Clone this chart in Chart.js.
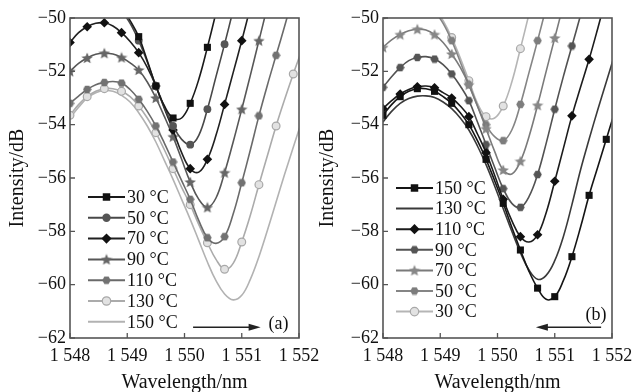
<!DOCTYPE html>
<html>
<head>
<meta charset="utf-8">
<script src="https://cdn.jsdelivr.net/npm/chart.js@4.4.0/dist/chart.umd.min.js"></script>
<style>
  html, body { margin: 0; padding: 0; background: #fff; }
  #wrap { position: relative; width: 633px; height: 392px; overflow: hidden; }
  .panel { position: absolute; top: 0; height: 392px; }
  #pa { left: 0; width: 322px; }
  #pb { left: 312px; width: 321px; }
</style>
</head>
<body>
<div id="wrap">
  <div class="panel" id="pa"><canvas id="chartA"></canvas></div>
  <div class="panel" id="pb"><canvas id="chartB"></canvas></div>
</div>
<script>
// wavelength grid (nm), markers sit on every other point (0.3 nm)
const wavelength = [1548.00, 1548.15, 1548.30, 1548.45, 1548.60, 1548.75, 1548.90, 1549.05, 1549.20, 1549.35,
  1549.50, 1549.65, 1549.80, 1549.95, 1550.10, 1550.25, 1550.40, 1550.55, 1550.70, 1550.85,
  1551.00, 1551.15, 1551.30, 1551.45, 1551.60, 1551.75, 1551.90, 1552.05];

// (a) heating, intensity in dB
const a30 = [-49.6, -49.3, -49.1, -49.0, -49.0, -49.2, -49.6, -50.1, -50.7, -51.6, -52.55, -53.3, -53.75, -53.75, -53.2, -52.3, -51.1, -49.8, -48.4];
const a50 = [-49.9, -49.6, -49.4, -49.3, -49.3, -49.45, -49.75, -50.2, -50.85, -51.65, -52.55, -53.35, -54.05, -54.55, -54.75, -54.4, -53.42, -52.2, -50.98, -49.7, -48.4];
const a70 = [-50.92, -50.55, -50.33, -50.2, -50.18, -50.3, -50.55, -50.88, -51.3, -51.85, -52.55, -53.4, -54.2, -55.05, -55.65, -55.78, -55.3, -54.4, -53.24, -52.05, -50.85, -49.6, -48.3];
const a90 = [-52.0, -51.7, -51.5, -51.36, -51.32, -51.35, -51.48, -51.68, -51.95, -52.4, -53.0, -53.7, -54.45, -55.3, -56.15, -56.8, -57.1, -56.75, -55.8, -54.65, -53.42, -52.15, -50.85, -49.55, -48.25];
const a110 = [-53.2, -52.93, -52.68, -52.5, -52.42, -52.38, -52.44, -52.68, -53.05, -53.5, -54.05, -54.7, -55.4, -56.1, -56.8, -57.6, -58.24, -58.45, -58.2, -57.35, -56.18, -54.95, -53.67, -52.5, -51.4, -50.3, -49.15];
const a130 = [-53.65, -53.25, -52.95, -52.75, -52.65, -52.65, -52.75, -52.95, -53.3, -53.75, -54.3, -54.95, -55.65, -56.35, -57.0, -57.75, -58.43, -59.05, -59.42, -59.2, -58.4, -57.4, -56.25, -55.15, -54.05, -53.05, -52.1, -51.2];
const a150 = [-53.75, -53.35, -53.0, -52.8, -52.72, -52.75, -52.9, -53.15, -53.55, -54.05, -54.65, -55.35, -56.05, -56.8, -57.55, -58.35, -59.15, -59.85, -60.35, -60.57, -60.4, -59.8, -58.95, -57.95, -56.9, -55.85, -54.85, -53.85];

// (b) cooling
const b150 = [-53.65, -53.25, -52.95, -52.75, -52.65, -52.65, -52.75, -52.95, -53.2, -53.55, -54.0, -54.6, -55.3, -56.1, -56.95, -57.85, -58.7, -59.5, -60.13, -60.55, -60.45, -59.85, -58.95, -57.85, -56.65, -55.6, -54.55, -53.5];
const b130 = [-53.9, -53.5, -53.2, -53.02, -52.93, -52.92, -52.98, -53.15, -53.4, -53.75, -54.2, -54.8, -55.5, -56.3, -57.15, -58.0, -58.8, -59.45, -59.8, -59.65, -59.1, -58.2, -57.0, -55.7, -54.55, -53.45, -52.4, -51.35];
const b110 = [-53.4, -53.1, -52.85, -52.68, -52.58, -52.55, -52.62, -52.8, -53.0, -53.3, -53.7, -54.35, -55.05, -55.9, -56.8, -57.6, -58.2, -58.4, -58.13, -57.3, -56.12, -54.9, -53.67, -52.6, -51.55, -50.4, -49.2];
const b90 = [-52.6, -52.2, -51.86, -51.6, -51.48, -51.45, -51.54, -51.75, -52.1, -52.55, -53.1, -53.9, -54.75, -55.6, -56.4, -56.95, -57.1, -56.7, -55.87, -54.7, -53.42, -52.2, -51.05, -49.9, -48.7];
const b70 = [-51.1, -50.82, -50.62, -50.48, -50.42, -50.45, -50.62, -50.92, -51.35, -51.85, -52.5, -53.3, -54.15, -55.0, -55.7, -55.85, -55.37, -54.45, -53.27, -52.0, -50.75, -49.5, -48.25];
const b50 = [-49.9, -49.6, -49.4, -49.3, -49.3, -49.45, -49.75, -50.2, -50.85, -51.65, -52.5, -53.3, -54.0, -54.45, -54.6, -54.2, -53.24, -52.05, -50.85, -49.6, -48.3];
const b30 = [-49.6, -49.3, -49.1, -49.0, -49.0, -49.2, -49.6, -50.1, -50.73, -51.5, -52.35, -53.2, -53.7, -53.75, -53.3, -52.4, -51.15, -49.85, -48.5];

const xTicks = [1548, 1549, 1550, 1551, 1552];
const yTicks = [-62, -60, -58, -56, -54, -52, -50];

const SERIF = '"Liberation Serif", "Times New Roman", serif';

// small marker glyphs that Chart.js has no built-in style for
function starIcon(size, fill) {
  const c = document.createElement('canvas');
  c.width = c.height = size;
  const g = c.getContext('2d');
  const r = size / 2, ri = r * 0.45;
  g.beginPath();
  for (let k = 0; k < 10; k++) {
    const a = -Math.PI / 2 + k * Math.PI / 5;
    const rr = k % 2 ? ri : r;
    g.lineTo(r + rr * Math.cos(a), r + rr * Math.sin(a) + 0.5);
  }
  g.closePath();
  g.fillStyle = fill;
  g.fill();
  return c;
}
function hexIcon(size, fill) {
  const c = document.createElement('canvas');
  c.width = c.height = size;
  const g = c.getContext('2d');
  const r = size / 2;
  g.beginPath();
  for (let k = 0; k < 6; k++) {
    const a = k * Math.PI / 3;
    g.lineTo(r + (r - 0.3) * Math.cos(a), r + (r - 0.3) * Math.sin(a));
  }
  g.closePath();
  g.fillStyle = fill;
  g.fill();
  return c;
}

function series(label, values, color, marker) {
  return {
    label: label,
    data: values.map((v, i) => ({ x: wavelength[i], y: v })),
    borderColor: color,
    borderWidth: 1.6,
    tension: 0.4,
    fill: false,
    pointStyle: marker ? marker.style : 'circle',
    pointRadius: ctx => (marker && ctx.dataIndex % 2 === 0 ? marker.r : 0),
    pointBackgroundColor: marker ? marker.fill : color,
    pointBorderColor: marker ? marker.stroke : color,
    pointBorderWidth: marker ? marker.bw : 0,
    marker: marker
  };
}

const sq = (fill) => ({ style: 'rect', r: 5, fill: fill, stroke: fill, bw: 0 });
const dia = (fill) => ({ style: 'rectRot', r: 4.8, fill: fill, stroke: fill, bw: 0 });
const dot = (fill, stroke, bw) => ({ style: 'circle', r: 3.9, fill: fill, stroke: stroke, bw: bw });
const star = (fill) => ({ style: starIcon(12, fill), r: 4, fill: fill, stroke: fill, bw: 0 });
const hex = (fill) => ({ style: hexIcon(9, fill), r: 4, fill: fill, stroke: fill, bw: 0 });

// frame, inward tick marks, legend inside the plot and the direction arrow
const decorPlugin = {
  id: 'decor',
  afterDatasetsDraw(chart, args, opts) {
    const { ctx, chartArea: ca, scales } = chart;
    ctx.save();
    ctx.strokeStyle = '#555';
    ctx.lineWidth = 1.6;
    ctx.strokeRect(ca.left, ca.top, ca.right - ca.left, ca.bottom - ca.top);
    ctx.lineWidth = 1.3;
    ctx.beginPath();
    xTicks.forEach(v => {
      const px = scales.x.getPixelForValue(v);
      ctx.moveTo(px, ca.bottom);
      ctx.lineTo(px, ca.bottom - 5);
    });
    yTicks.forEach(v => {
      const py = scales.y.getPixelForValue(v);
      ctx.moveTo(ca.left, py);
      ctx.lineTo(ca.left + 5, py);
    });
    ctx.stroke();

    // legend
    ctx.font = '18px ' + SERIF;
    ctx.textBaseline = 'middle';
    ctx.textAlign = 'left';
    chart.data.datasets.forEach((ds, i) => {
      const y = ca.top + opts.legendTop + i * opts.legendStep;
      const x0 = ca.left + opts.legendLeft, x1 = x0 + 37;
      ctx.strokeStyle = ds.borderColor;
      ctx.lineWidth = 2;
      ctx.beginPath();
      ctx.moveTo(x0, y);
      ctx.lineTo(x1, y);
      ctx.stroke();
      const m = ds.marker;
      if (m) {
        ctx.fillStyle = m.fill;
        ctx.strokeStyle = m.stroke;
        ctx.lineWidth = m.bw;
        Chart.helpers.drawPoint(ctx, { pointStyle: m.style, radius: m.r + 0.3, borderWidth: m.bw, rotation: 0 }, (x0 + x1) / 2, y);
      }
      ctx.fillStyle = '#111';
      ctx.fillText(ds.label, x1 + 2, y + 1);
    });

    // arrow
    const ax0 = scales.x.getPixelForValue(opts.arrowFrom);
    const ax1 = scales.x.getPixelForValue(opts.arrowTo);
    const ay = scales.y.getPixelForValue(opts.arrowY);
    const dir = Math.sign(ax1 - ax0);
    ctx.strokeStyle = '#222';
    ctx.fillStyle = '#222';
    ctx.lineWidth = 1.5;
    ctx.beginPath();
    ctx.moveTo(ax0, ay);
    ctx.lineTo(ax1 - dir * 8, ay);
    ctx.stroke();
    ctx.beginPath();
    ctx.moveTo(ax1, ay);
    ctx.lineTo(ax1 - dir * 12, ay - 3.5);
    ctx.lineTo(ax1 - dir * 12, ay + 3.5);
    ctx.closePath();
    ctx.fill();

    ctx.fillStyle = '#111';
    ctx.textAlign = 'center';
    ctx.fillText(opts.tag, scales.x.getPixelForValue(opts.tagX), scales.y.getPixelForValue(opts.tagY));
    ctx.restore();
  }
};

function makeOptions(yWidth, padRight, decor) {
  return {
    responsive: true,
    maintainAspectRatio: false,
    devicePixelRatio: 1,
    animation: false,
    events: [],
    layout: { padding: { top: 18, right: padRight, bottom: 0, left: 0 } },
    plugins: {
      legend: { display: false },
      tooltip: { enabled: false },
      decor: decor
    },
    scales: {
      x: {
        type: 'linear',
        min: 1548,
        max: 1552,
        afterBuildTicks: s => { s.ticks = xTicks.map(v => ({ value: v })); },
        afterFit: s => { s.height = 54; s.paddingLeft = 0; s.paddingRight = 0; },
        grid: { display: false, drawTicks: false },
        border: { display: false },
        ticks: {
          color: '#111',
          padding: 7,
          maxRotation: 0,
          font: { family: SERIF, size: 18 },
          callback: v => String(v).replace(/^(\d)(\d{3})$/, '$1 $2')
        },
        title: {
          display: true,
          text: 'Wavelength/nm',
          color: '#111',
          font: { family: SERIF, size: 20, lineHeight: 0.9 },
          padding: { top: 0, bottom: 0 }
        }
      },
      y: {
        min: -62,
        max: -50,
        afterBuildTicks: s => { s.ticks = yTicks.map(v => ({ value: v })); },
        afterFit: s => { s.width = yWidth; s.paddingTop = 0; s.paddingBottom = 0; },
        grid: { display: false, drawTicks: false },
        border: { display: false },
        ticks: {
          color: '#111',
          padding: 4,
          font: { family: SERIF, size: 18 },
          callback: v => '\u2212' + Math.abs(v)
        },
        title: {
          display: true,
          text: 'Intensity/dB',
          color: '#111',
          font: { family: SERIF, size: 20, lineHeight: 1 },
          padding: { top: decor.titlePad, bottom: 0 }
        }
      }
    }
  };
}

new Chart(document.getElementById('chartA'), {
  type: 'line',
  data: {
    datasets: [
      series('30 °C', a30, '#1a1a1a', sq('#111')),
      series('50 °C', a50, '#484848', dot('#555', '#555', 0)),
      series('70 °C', a70, '#202020', dia('#111')),
      series('90 °C', a90, '#575757', star('#666')),
      series('110 °C', a110, '#6a6a6a', hex('#727272')),
      series('130 °C', a130, '#ababab', dot('#e2e2e2', '#a8a8a8', 1.2)),
      series('150 °C', a150, '#b2b2b2', null)
    ]
  },
  options: makeOptions(70, 23, {
    legendTop: 179, legendStep: 20.8, legendLeft: 18,
    arrowFrom: 1550.15, arrowTo: 1551.33, arrowY: -61.6,
    tag: '(a)', tagX: 1551.64, tagY: -61.5, titlePad: 8
  }),
  plugins: [decorPlugin]
});

new Chart(document.getElementById('chartB'), {
  type: 'line',
  data: {
    datasets: [
      series('150 °C', b150, '#151515', sq('#111')),
      series('130 °C', b130, '#3a3a3a', null),
      series('110 °C', b110, '#1c1c1c', dia('#111')),
      series('90 °C', b90, '#525252', hex('#555')),
      series('70 °C', b70, '#7a7a7a', star('#878787')),
      series('50 °C', b50, '#858585', hex('#7d7d7d')),
      series('30 °C', b30, '#b5b5b5', dot('#e2e2e2', '#a8a8a8', 1.2))
    ]
  },
  options: makeOptions(71, 21, {
    legendTop: 170, legendStep: 20.6, legendLeft: 13,
    arrowFrom: 1551.81, arrowTo: 1550.67, arrowY: -61.6,
    tag: '(b)', tagX: 1551.72, tagY: -61.15, titlePad: 6
  }),
  plugins: [decorPlugin]
});
</script>
</body>
</html>
